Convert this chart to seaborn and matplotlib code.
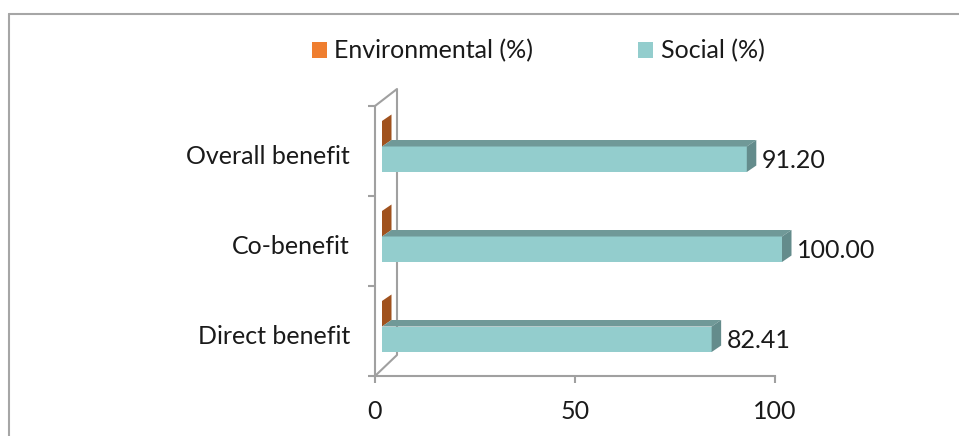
import numpy as np
import pandas as pd
import seaborn as sns
import matplotlib
matplotlib.use("Agg")
import matplotlib.pyplot as plt
from matplotlib.patches import Polygon, Patch
from matplotlib.lines import Line2D
from matplotlib.transforms import ScaledTranslation

# ---- data -------------------------------------------------------------
categories = ["Overall benefit", "Co-benefit", "Direct benefit"]
series = ["Environmental (%)", "Social (%)"]
environmental = [0.0, 0.0, 0.0]
social = [91.20, 100.00, 82.41]
x_ticks = [0, 50, 100]

df = pd.DataFrame({
    "benefit": categories * 2,
    "series": [series[0]] * len(categories) + [series[1]] * len(categories),
    "value": environmental + social,
})

# ---- style ------------------------------------------------------------
sns.set_theme(style="white")
plt.rcParams["font.family"] = ["Lato", "DejaVu Sans"]
FS = 18
TEXT = "#1a1a1a"
FRAME = "#a0a0a0"

# front / top / side shades of each series' 3-D bars
front_cols = {series[0]: "#ef7e2f", series[1]: "#93cdcd"}
top_cols = {series[0]: "#c4662a", series[1]: "#709998"}
side_cols = {series[0]: "#a0521e", series[1]: "#648c8c"}

DPI = 100
fig = plt.figure(figsize=(9.59, 4.36), dpi=DPI)
ax = fig.add_axes([375 / 959, 60 / 436, 400 / 959, 270 / 436])

sns.barplot(
    data=df, x="value", y="benefit", hue="series",
    order=categories, hue_order=series,
    palette=[front_cols[s] for s in series],
    width=0.567, saturation=1, edgecolor="none", linewidth=0,
    legend=False, ax=ax,
)
ax.set_xlim(0, 100)
ax.set_ylim(len(categories) - 0.5, -0.5)
ax.set_xlabel("")
ax.set_ylabel("")

# pixel scale of the data axes
bb = ax.get_window_extent()
px_x = bb.width / 100.0
px_y = bb.height / len(categories)

# bars sit a little behind the front plane of the chart box
bar_tr = ax.transData + ScaledTranslation(7 / DPI, 4.5 / DPI, fig.dpi_scale_trans)
ddx = 9.5 / px_x
ddy = -6.5 / px_y

for s, cont in zip(series, ax.containers):
    for rect in cont:
        rect.set_transform(bar_tr)
        rect.set_clip_on(False)
        rect.set_zorder(4)
        x0 = rect.get_x()
        x1 = x0 + rect.get_width()
        yt = rect.get_y()
        yb = yt + rect.get_height()
        top = [(x0, yt), (x1, yt), (x1 + ddx, yt + ddy), (x0 + ddx, yt + ddy)]
        side = [(x1, yt), (x1, yb), (x1 + ddx, yb + ddy), (x1 + ddx, yt + ddy)]
        ax.add_patch(Polygon(top, closed=True, facecolor=top_cols[s], edgecolor="none",
                             transform=bar_tr, clip_on=False, zorder=4))
        ax.add_patch(Polygon(side, closed=True, facecolor=side_cols[s], edgecolor="none",
                             transform=bar_tr, clip_on=False, zorder=4))

# value labels on the Social bars
label_tr = ax.transData + ScaledTranslation(22 / DPI, 3 / DPI, fig.dpi_scale_trans)
for rect, v in zip(ax.containers[1], social):
    yc = rect.get_y() + rect.get_height() / 2
    ax.text(v, yc, f"{v:.2f}", transform=label_tr, ha="left", va="center",
            fontsize=FS, color=TEXT, zorder=6, clip_on=False)

# ---- box frame: front axes plus the receding left wall ----------------
for side_name in ("top", "right"):
    ax.spines[side_name].set_visible(False)
for side_name in ("left", "bottom"):
    ax.spines[side_name].set_color(FRAME)
    ax.spines[side_name].set_linewidth(1.5)

wall_dx = 22 / px_x
wall_dy_bot = -21 / px_y
wall_dy_top = -17 / px_y
y_lo, y_hi = len(categories) - 0.5, -0.5
wall_x = [0, wall_dx, wall_dx, 0]
wall_y = [y_lo, y_lo + wall_dy_bot, y_hi + wall_dy_top, y_hi]
ax.add_line(Line2D(wall_x, wall_y, color=FRAME, lw=1.5, clip_on=False, zorder=2))

ax.set_xticks(x_ticks)
ax.set_xticklabels([str(t) for t in x_ticks])
ax.set_yticks(range(len(categories)))
ax.set_yticklabels(categories)
ax.set_yticks(np.arange(-0.5, len(categories), 1.0), minor=True)

ax.tick_params(axis="x", which="major", bottom=True, length=5, width=1.5,
               color=FRAME, direction="out", pad=12, labelsize=FS, labelcolor=TEXT)
ax.tick_params(axis="y", which="major", left=True, length=0, pad=18,
               labelsize=FS, labelcolor=TEXT)
ax.tick_params(axis="y", which="minor", left=True, length=5, width=1.5,
               color=FRAME, direction="out")
ax.grid(False)

# category names sit slightly below the band centres
for lab in ax.get_yticklabels():
    lab.set_transform(lab.get_transform() + ScaledTranslation(0, -3 / DPI, fig.dpi_scale_trans))

# ---- legend ----------------------------------------------------------
handles = [Patch(facecolor=front_cols[s], edgecolor="none") for s in series]
fig.legend(handles, series, loc="center", bbox_to_anchor=(0.561, 0.883), ncol=2,
           frameon=False, fontsize=FS, handlelength=0.6, handleheight=0.6,
           handletextpad=0.3, columnspacing=4.2, labelcolor=TEXT)

# ---- outer chart border ---------------------------------------------
fig.add_artist(Line2D([9 / 959, 9 / 959], [0, 1 - 14 / 436], transform=fig.transFigure,
                      color="#a6a6a6", lw=1.5))
fig.add_artist(Line2D([9 / 959, 1], [1 - 14 / 436, 1 - 14 / 436], transform=fig.transFigure,
                      color="#a6a6a6", lw=1.5))

fig.savefig("out.png", dpi=DPI, facecolor="white")
